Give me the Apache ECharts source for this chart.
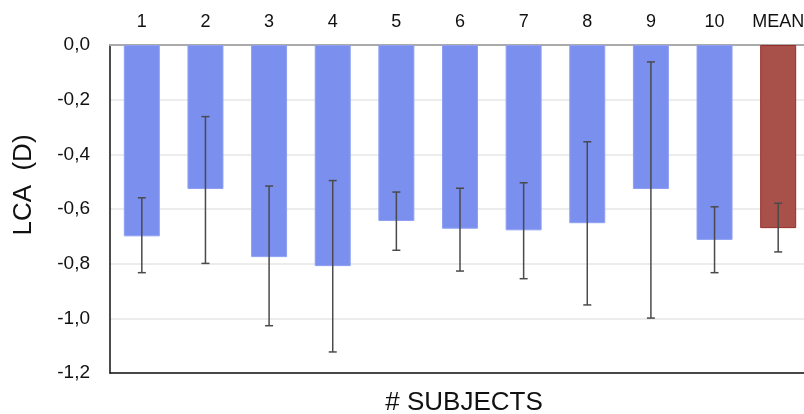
<!DOCTYPE html>
<html>
<head>
<meta charset="utf-8">
<script src="https://cdn.jsdelivr.net/npm/echarts@6/dist/echarts.min.js"></script>
<style>html,body{margin:0;padding:0;background:#fff}#c{width:804px;height:414px}</style>
</head>
<body>
<div id="c"></div>
<script>
const categories = ['1','2','3','4','5','6','7','8','9','10','MEAN'];
const lcaValues = [-0.70, -0.527, -0.776, -0.809, -0.644, -0.672, -0.678, -0.652, -0.527, -0.713, -0.670];
const errUpper = [-0.559, -0.262, -0.516, -0.496, -0.538, -0.524, -0.504, -0.354, -0.062, -0.592, -0.579];
const errLower = [-0.833, -0.799, -1.027, -1.123, -0.751, -0.827, -0.855, -0.951, -0.999, -0.833, -0.757];
const yTicks = [0, -0.2, -0.4, -0.6, -0.8, -1.0, -1.2];

const chart = echarts.init(document.getElementById('c'));
const font = 'Liberation Sans, Arial, sans-serif';
const barData = lcaValues.map((v, i) => ({
  value: v,
  itemStyle: i === categories.length - 1
    ? { color: '#a8504a', borderColor: '#962f29', borderWidth: 1 }
    : { color: '#7b8fef', borderColor: '#8fa0f3', borderWidth: 1 }
}));
const errData = categories.map((c, i) => [i, errUpper[i], errLower[i]]);

chart.setOption({
  animation: false,
  grid: { left: 110, right: -6, top: 45, bottom: 41, containLabel: false, outerBoundsMode: 'none' },
  xAxis: [{
    type: 'category', data: categories, position: 'top',
    axisLine: { show: true, onZero: false, lineStyle: { color: '#aaaaaa', width: 2 } },
    axisTick: { show: false },
    axisLabel: { color: '#111', fontSize: 18, fontFamily: font, margin: 14, interval: 0 },
    splitLine: { show: false }
  }, {
    type: 'category', data: categories, position: 'bottom',
    axisLine: { show: true, onZero: false, lineStyle: { color: '#111', width: 1.5 } },
    axisTick: { show: false }, axisLabel: { show: false },
    name: '# SUBJECTS', nameLocation: 'middle', nameGap: 17,
    nameTextStyle: { color: '#111', fontSize: 26, fontFamily: font, verticalAlign: 'top', padding: [0, 0, 0, 8] }
  }],
  yAxis: {
    type: 'value', min: -1.2, max: 0, interval: 0.2,
    axisLine: { show: true, lineStyle: { color: '#111', width: 1.5 } },
    axisTick: { show: false },
    axisLabel: {
      color: '#111', fontSize: 19, fontFamily: font, margin: 20,
      formatter: v => v.toFixed(1).replace('.', ',')
    },
    splitLine: { show: true, lineStyle: { color: '#e6e6e6', width: 1.5 } },
    name: 'LCA  (D)', nameLocation: 'middle', nameGap: 73, nameRotate: 90,
    nameTextStyle: { color: '#111', fontSize: 26, fontFamily: font, padding: [0, 0, 0, 48] }
  },
  series: [{
    type: 'bar', data: barData, barWidth: 36, xAxisIndex: 0
  }, {
    type: 'custom', xAxisIndex: 0, data: errData, z: 10,
    renderItem: function (params, api) {
      const x = api.value(0);
      const top = api.coord([x, api.value(1)]);
      const bot = api.coord([x, api.value(2)]);
      const cw = 4;
      const st = { stroke: '#4a4a4a', lineWidth: 1.5 };
      return {
        type: 'group',
        children: [
          { type: 'line', shape: { x1: top[0], y1: top[1], x2: bot[0], y2: bot[1] }, style: st },
          { type: 'line', shape: { x1: top[0] - cw, y1: top[1], x2: top[0] + cw, y2: top[1] }, style: st },
          { type: 'line', shape: { x1: bot[0] - cw, y1: bot[1], x2: bot[0] + cw, y2: bot[1] }, style: st }
        ]
      };
    }
  }]
});
</script>
</body>
</html>
